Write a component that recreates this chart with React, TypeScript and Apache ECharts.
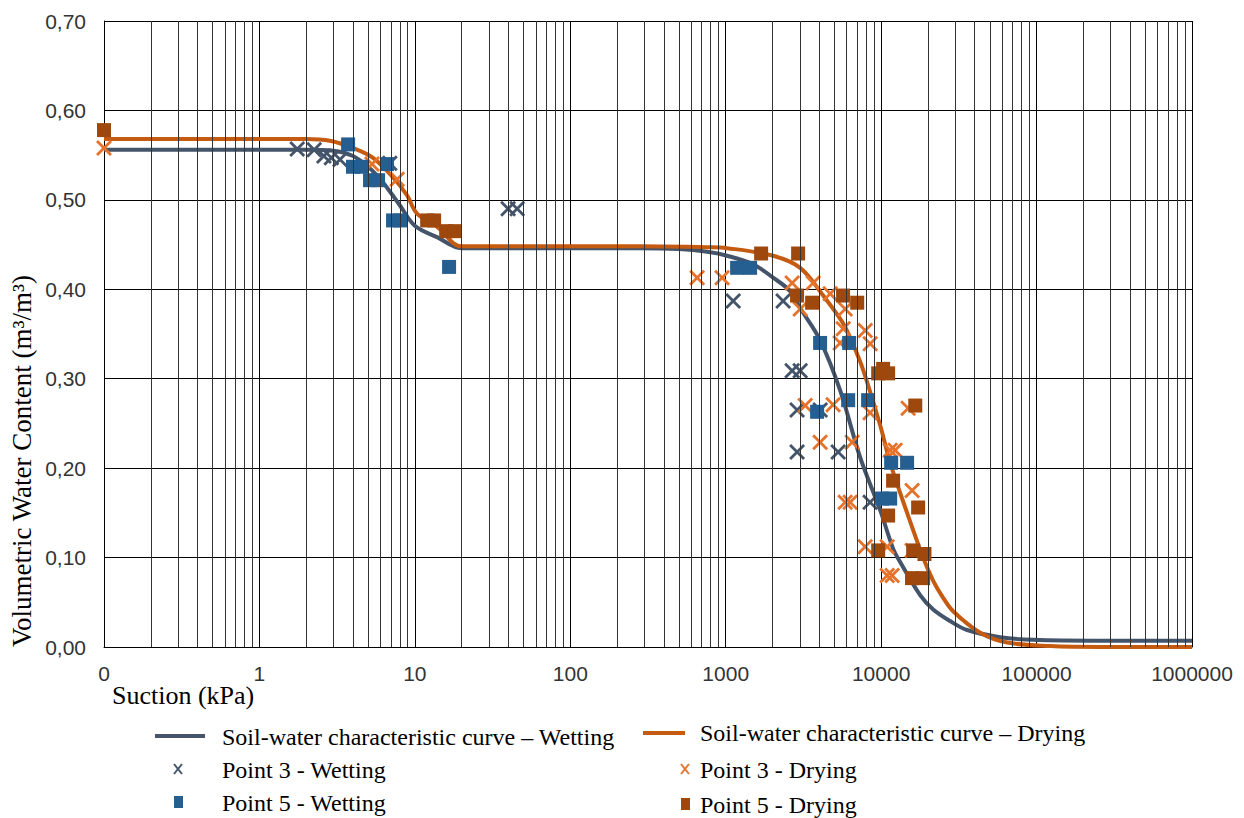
import React, { useEffect, useRef } from "react";
import * as echarts from "echarts";

// Suction (kPa), volumetric water content (m3/m3)
const wettingCurve: [number, number][] = [
  [0.1, 0.556], [1, 0.556], [2, 0.556], [3, 0.555], [4, 0.549], [5, 0.537], [6, 0.523],
  [7, 0.508], [8, 0.494], [10, 0.471], [14, 0.458], [20, 0.446], [100, 0.446], [281, 0.446],
  [500, 0.445], [760, 0.442], [1021, 0.4375], [1500, 0.428], [2018, 0.413], [2597, 0.398],
  [3013, 0.379], [4049, 0.343], [5448, 0.287], [7328, 0.212], [9857, 0.153], [11940, 0.11],
  [13250, 0.095], [17820, 0.058], [21620, 0.042], [27800, 0.029], [35750, 0.019],
  [58300, 0.011], [95100, 0.008], [256000, 0.007], [1000000, 0.007],
];

const dryingCurve: [number, number][] = [
  [0.1, 0.568], [1, 0.568], [2, 0.568], [2.84, 0.566], [4.0, 0.558], [5.38, 0.547],
  [7.24, 0.525], [8.91, 0.505], [10.3, 0.485], [14.1, 0.469], [20, 0.448], [100, 0.448],
  [281, 0.448], [760, 0.447], [1020, 0.446], [2018, 0.4375], [3013, 0.424], [4236, 0.393],
  [5690, 0.362], [6607, 0.338], [7656, 0.31], [9857, 0.248], [11430, 0.206], [14690, 0.15],
  [18620, 0.1], [21620, 0.074], [25060, 0.055], [29040, 0.04], [43350, 0.016], [64700, 0.005],
  [122400, 0.001], [256000, 0], [1000000, 0],
];

const point3Wetting: [number, number][] = [
  [1.75, 0.557], [2.25, 0.556], [2.6, 0.549], [2.9, 0.547], [3.3, 0.545], [6.9, 0.541],
  [39.8, 0.49], [45.5, 0.49], [1117, 0.387], [2340, 0.387], [2675, 0.309], [3013, 0.309],
  [2878, 0.265], [4050, 0.265], [2878, 0.218], [5290, 0.218], [8490, 0.162],
];

const point5Wetting: [number, number][] = [
  [3.72, 0.562], [4.0, 0.537], [4.57, 0.537], [5.15, 0.522], [5.8, 0.522], [6.62, 0.54],
  [7.24, 0.477], [8.03, 0.477], [16.6, 0.425], [1184, 0.424], [1435, 0.424], [4049, 0.34],
  [6225, 0.34], [3873, 0.263], [6135, 0.276], [8245, 0.276], [11600, 0.206], [14690, 0.206],
  [10150, 0.166], [11430, 0.166],
];

const point3Drying: [number, number][] = [
  [0.1, 0.558], [5.3, 0.54], [7.7, 0.523], [655, 0.413], [948, 0.413], [2675, 0.407],
  [3650, 0.407], [4700, 0.395], [3013, 0.378], [5870, 0.378], [5700, 0.356], [5448, 0.34],
  [7900, 0.354], [8500, 0.339], [3245, 0.27], [4910, 0.271], [4049, 0.229], [6510, 0.229],
  [8490, 0.262], [14920, 0.267], [11430, 0.22], [12300, 0.22], [15820, 0.175], [5870, 0.162],
  [6320, 0.162], [7890, 0.112], [10940, 0.112], [15820, 0.108], [10940, 0.08], [11770, 0.08],
];

const point5Drying: [number, number][] = [
  [0.1, 0.578], [12.0, 0.477], [13.3, 0.477], [15.9, 0.465], [18.1, 0.465], [1690, 0.44],
  [2923, 0.44], [2878, 0.393], [3597, 0.385], [5690, 0.393], [7015, 0.385], [9570, 0.306],
  [10300, 0.311], [11090, 0.306], [16580, 0.27], [11940, 0.186], [17300, 0.156],
  [11090, 0.147], [9570, 0.108], [16070, 0.108], [19000, 0.104], [15800, 0.077], [18620, 0.077],
];

const decades = [0.1, 1, 10, 100, 1000, 10000, 100000];
const minorMultipliers = [2, 3, 4, 5, 6, 7, 8, 9];

const seriesNames = {
  wetCurve: "Soil-water characteristic curve – Wetting",
  dryCurve: "Soil-water characteristic curve – Drying",
  p3Wet: "Point 3 - Wetting",
  p5Wet: "Point 5 - Wetting",
  p3Dry: "Point 3 - Drying",
  p5Dry: "Point 5 - Drying",
};

const COLORS = {
  wetCurve: "#44546A",
  dryCurve: "#C55A11",
  p3Wet: "#44546A",
  p5Wet: "#255E91",
  p3Dry: "#E6732C",
  p5Dry: "#9E480E",
};

const X_SYMBOL =
  "path://M2.5,0L10,7.5L17.5,0L20,2.5L12.5,10L20,17.5L17.5,20L10,12.5L2.5,20L0,17.5L7.5,10L0,2.5Z";

const SERIF = '"Liberation Serif", "Times New Roman", serif';
const SANS = '"Liberation Sans", Arial, sans-serif';

export default function App() {
  const ref = useRef<HTMLDivElement>(null);

  useEffect(() => {
    if (!ref.current) return;
    const chart = echarts.init(ref.current, null, { renderer: "svg" });

    const minorLines: { xAxis: number }[] = [];
    decades.forEach((d) =>
      minorMultipliers.forEach((m) => minorLines.push({ xAxis: Math.round(d * m * 10) / 10 }))
    );

    const legendText = (x: number, y: number, text: string) => ({
      type: "text",
      x,
      y,
      silent: true,
      style: {
        text,
        fill: "#000",
        fontSize: 24,
        fontFamily: SERIF,
        align: "left",
        verticalAlign: "middle",
      },
    });
    const xIcon = (cx: number, cy: number, color: string) => ({
      type: "group",
      silent: true,
      children: [
        { type: "line", shape: { x1: cx - 4, y1: cy - 5, x2: cx + 4, y2: cy + 5 }, style: { stroke: color, lineWidth: 2 } },
        { type: "line", shape: { x1: cx + 4, y1: cy - 5, x2: cx - 4, y2: cy + 5 }, style: { stroke: color, lineWidth: 2 } },
      ],
    });

    const scatter = (name: string, data: [number, number][], symbol: string, size: number, color: string, z: number) => ({
      type: "scatter",
      name,
      data,
      symbol,
      symbolSize: size,
      z,
      itemStyle: { color, opacity: 1 },
      emphasis: { disabled: true },
    });

    const option: any = {
      animation: false,
      backgroundColor: "#fff",
      grid: { left: 104, top: 21, width: 1088, height: 626, containLabel: false },
      xAxis: {
        type: "log",
        logBase: 10,
        min: 0.1,
        max: 1000000,
        interval: 1,
        axisLine: { show: true, onZero: false, lineStyle: { color: "#000", width: 1 } },
        axisTick: { show: false },
        axisLabel: {
          color: "#333",
          fontSize: 21,
          fontFamily: SANS,
          margin: 16,
          formatter: (v: number) => (v < 1 ? "0" : String(Math.round(v))),
        },
        splitLine: { show: true, lineStyle: { color: "#000", width: 1 } },
      },
      yAxis: {
        type: "value",
        min: 0,
        max: 0.7,
        interval: 0.1,
        axisLine: { show: true, lineStyle: { color: "#000", width: 1 } },
        axisTick: { show: false },
        axisLabel: {
          color: "#333",
          fontSize: 21,
          fontFamily: SANS,
          margin: 18,
          formatter: (v: number) => v.toFixed(2).replace(".", ","),
        },
        splitLine: { show: true, lineStyle: { color: "#000", width: 1 } },
      },
      series: [
        {
          type: "line",
          name: "minor-grid",
          data: [],
          silent: true,
          z: 1,
          markLine: {
            silent: true,
            symbol: ["none", "none"],
            label: { show: false },
            emphasis: { disabled: true },
            lineStyle: { color: "#333", width: 1, type: "solid" },
            data: minorLines,
          },
        },
        {
          type: "line",
          name: seriesNames.wetCurve,
          data: wettingCurve,
          smooth: 0.35,
          symbol: "none",
          z: 2,
          lineStyle: { color: COLORS.wetCurve, width: 4 },
          itemStyle: { color: COLORS.wetCurve },
          emphasis: { disabled: true },
        },
        {
          type: "line",
          name: seriesNames.dryCurve,
          data: dryingCurve,
          smooth: 0.35,
          symbol: "none",
          z: 2,
          lineStyle: { color: COLORS.dryCurve, width: 4 },
          itemStyle: { color: COLORS.dryCurve },
          emphasis: { disabled: true },
        },
        scatter(seriesNames.p3Wet, point3Wetting, X_SYMBOL, 16, COLORS.p3Wet, 3),
        scatter(seriesNames.p3Dry, point3Drying, X_SYMBOL, 16, COLORS.p3Dry, 3),
        scatter(seriesNames.p5Wet, point5Wetting, "rect", 14, COLORS.p5Wet, 4),
        scatter(seriesNames.p5Dry, point5Drying, "rect", 14, COLORS.p5Dry, 4),
      ],
      graphic: [
        {
          type: "text",
          x: 112,
          y: 695,
          silent: true,
          style: {
            text: "Suction (kPa)",
            fill: "#000",
            fontSize: 26,
            fontFamily: SERIF,
            align: "left",
            verticalAlign: "middle",
          },
        },
        {
          type: "text",
          x: 22,
          y: 461,
          rotation: Math.PI / 2,
          silent: true,
          style: {
            text: "Volumetric Water Content (m³/m³)",
            fill: "#000",
            fontSize: 27,
            fontFamily: SERIF,
            align: "center",
            verticalAlign: "middle",
          },
        },
        { type: "line", silent: true, shape: { x1: 155, y1: 736, x2: 205, y2: 736 }, style: { stroke: COLORS.wetCurve, lineWidth: 4 } },
        legendText(222, 737, seriesNames.wetCurve),
        { type: "line", silent: true, shape: { x1: 643, y1: 733, x2: 685, y2: 733 }, style: { stroke: COLORS.dryCurve, lineWidth: 4 } },
        legendText(700, 733, seriesNames.dryCurve),
        xIcon(178, 769, COLORS.p3Wet),
        legendText(222, 770, seriesNames.p3Wet),
        xIcon(685, 769, COLORS.p3Dry),
        legendText(700, 770, seriesNames.p3Dry),
        { type: "rect", silent: true, shape: { x: 174, y: 796, width: 9, height: 12 }, style: { fill: COLORS.p5Wet } },
        legendText(222, 803, seriesNames.p5Wet),
        { type: "rect", silent: true, shape: { x: 681, y: 798, width: 9, height: 12 }, style: { fill: COLORS.p5Dry } },
        legendText(700, 805, seriesNames.p5Dry),
      ],
    };

    chart.setOption(option);
    return () => chart.dispose();
  }, []);

  return (
    <div
      ref={ref}
      style={{ position: "absolute", left: 0, top: 0, width: 1244, height: 818, background: "#fff" }}
    />
  );
}
